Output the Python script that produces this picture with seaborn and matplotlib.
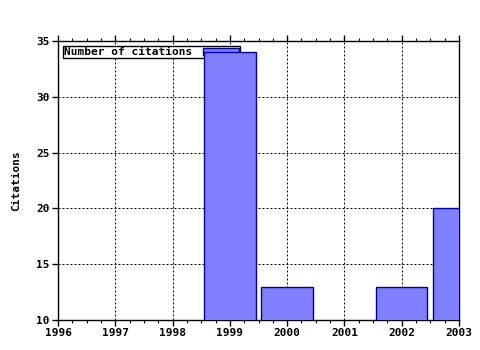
import matplotlib
matplotlib.use("Agg")
import matplotlib.pyplot as plt
import seaborn as sns
import pandas as pd
from matplotlib.ticker import MultipleLocator

years = [1999, 2000, 2002, 2003]
citations = [34, 13, 13, 20]
series_label = "Number of citations"
x_ticks = [1996, 1997, 1998, 1999, 2000, 2001, 2002, 2003]
y_ticks = [10, 15, 20, 25, 30, 35]

sns.set_style("white")
plt.rcParams['font.family'] = ['DejaVu Sans Mono']
plt.rcParams['font.weight'] = 'bold'
plt.rcParams['font.size'] = 8
plt.rcParams['text.color'] = 'black'
plt.rcParams['xtick.color'] = 'black'
plt.rcParams['ytick.color'] = 'black'
plt.rcParams['axes.labelcolor'] = 'black'

df = pd.DataFrame({"year": years, "citations": citations})

fig = plt.figure(figsize=(4.8, 3.5), dpi=100)
ax = fig.add_axes([58/480, 1-320/350, (459-58)/480, (320-41)/350])

sns.barplot(data=df, x="year", y="citations", native_scale=True, width=0.9,
            color="#8080ff", saturation=1, edgecolor="#0000a0", linewidth=1,
            label=series_label, ax=ax, zorder=3)

ax.set_xlim(1996, 2003)
ax.set_ylim(10, 35)
ax.set_xticks(x_ticks)
ax.set_xticklabels([str(t) for t in x_ticks])
ax.set_yticks(y_ticks)
ax.xaxis.set_minor_locator(MultipleLocator(0.25))
ax.set_xlabel("")
ax.set_ylabel("Citations", fontsize=8, fontweight='bold', labelpad=11, color='black')

for s in ax.spines.values():
    s.set_color("black")
    s.set_linewidth(1)
    s.set_visible(True)

ax.grid(True, which='major', color='black', linestyle=(0, (2, 2)), linewidth=0.72, zorder=0)
ax.set_axisbelow(True)
ax.tick_params(axis='x', which='major', direction='out', length=4, width=1, top=True, bottom=True, colors='black', pad=2)
ax.tick_params(axis='x', which='minor', direction='out', length=2, width=0.8, top=True, bottom=True, color='black')
ax.tick_params(axis='y', which='major', direction='out', length=4, width=1, left=True, right=False, colors='black', pad=2)

leg = ax.legend(loc='upper left', markerfirst=False, frameon=True, fancybox=False,
                edgecolor='black', framealpha=1, borderpad=0.1, handlelength=3.2,
                handleheight=0.6, handletextpad=1.0, borderaxespad=0.45,
                prop={'family': 'DejaVu Sans Mono', 'weight': 'bold', 'size': 8})
leg.get_frame().set_linewidth(1)
for t in leg.get_texts():
    t.set_color('black')
leg.set_zorder(1)

fig.savefig("out.png", dpi=100)
